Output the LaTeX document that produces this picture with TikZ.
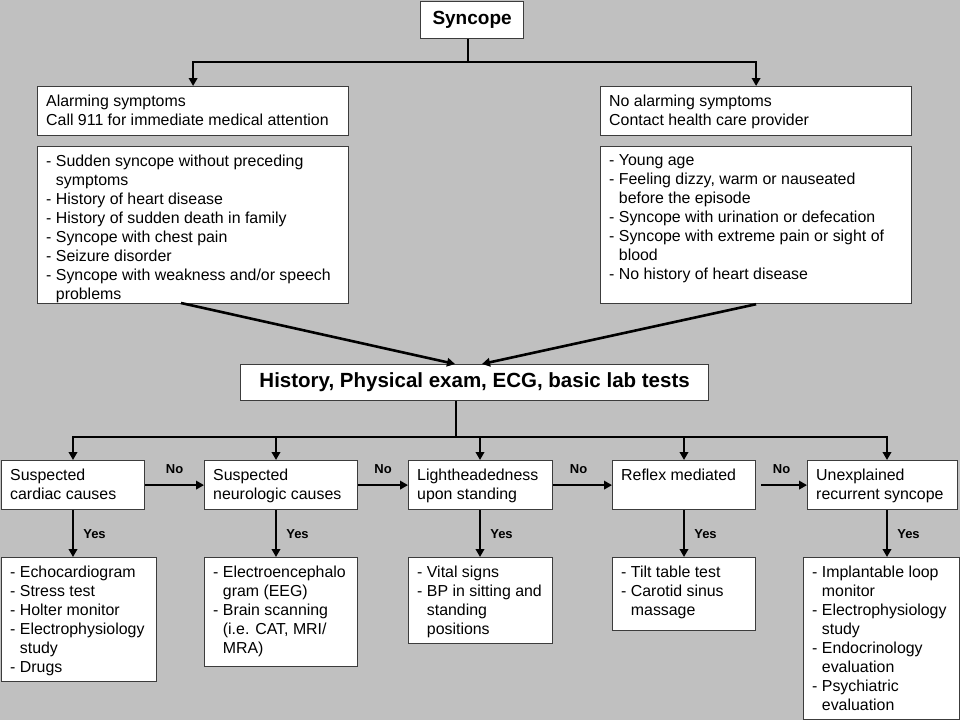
\documentclass[tikz,border=0pt]{standalone}
\usepackage{fontspec}
\setmainfont{Liberation Sans}
\usetikzlibrary{arrows.meta}
\newcommand\bodyfont{\fontsize{15.9}{19}\selectfont}
\newcommand\titlefont{\fontsize{19}{22}\selectfont\bfseries}
\newcommand\histfont{\fontsize{20.5}{24}\selectfont\bfseries}
\newcommand\labfont{\fontsize{13}{15}\selectfont\bfseries}
\newcommand\ind{\hphantom{-\ }}
\definecolor{bgc}{RGB}{192,192,192}
\definecolor{bdc}{RGB}{60,60,60}
\tikzset{
  box/.style={draw=bdc, line width=1.2pt, fill=white, rectangle, inner sep=0pt, anchor=north west},
  txt/.style={align=left, inner sep=0pt, anchor=north west, font=\bodyfont},
  conn/.style={line width=2.6pt, black},
  arr/.style={conn, -{Triangle[length=8pt,width=8.5pt]}},
  lbl/.style={font=\labfont, inner sep=0pt},
}
\newcommand\tbox[6]{%
  \node[box, minimum width={#4-#2}, minimum height={#5-#3}] (#1) at (#2,#3) {};
  \node[txt] (#1t) at (#2+9,#3+8.5) {#6};}
\begin{document}
\begin{tikzpicture}[x=1pt,y=-1pt]
\useasboundingbox (0,0) rectangle (960,720);
\fill[bgc] (0,0) rectangle (960,720);
% title boxes
\node[box, minimum width=103, minimum height=37, font=\titlefont] (syn) at (420,1) {Syncope};
\node[box, minimum width=468, minimum height=36, font=\histfont] (hist) at (240,364) {History, Physical exam, ECG, basic lab tests};
% upper boxes
\tbox{alarm}{37}{86}{348}{135}{Alarming symptoms\\Call 911 for immediate medical attention}
\tbox{alarmL}{37}{146}{348}{303}{- Sudden syncope without preceding\\\ind symptoms\\- History of heart disease\\- History of sudden death in family\\- Syncope with chest pain\\- Seizure disorder\\- Syncope with weakness and/or speech\\\ind problems}
\tbox{noalarm}{600}{86}{911}{135}{No alarming symptoms\\Contact health care provider}
\tbox{noalarmL}{600}{146}{911}{303}{- Young age\\- Feeling dizzy, warm or nauseated\\\ind before the episode\\- Syncope with urination or defecation\\- Syncope with extreme pain or sight of\\\ind blood\\- No history of heart disease}
% row of causes
\tbox{r1}{1}{460}{144}{509}{Suspected\\cardiac causes}
\tbox{r2}{204}{460}{357}{509}{Suspected\\neurologic causes}
\tbox{r3}{408}{460}{552}{509}{Lightheadedness\\upon standing}
\tbox{r4}{612}{460}{755}{509}{Reflex mediated}
\tbox{r5}{807}{460}{957}{509}{Unexplained\\recurrent syncope}
% bottom boxes
\tbox{b1}{1}{557}{156}{681}{- Echocardiogram\\- Stress test\\- Holter monitor\\- Electrophysiology\\\ind study\\- Drugs}
\tbox{b2}{204}{557}{357}{666}{- Electroencephalo\\\ind gram (EEG)\\- Brain scanning\\\ind (i.e. CAT, MRI/\\\ind MRA)}
\tbox{b3}{408}{557}{552}{643}{- Vital signs\\- BP in sitting and\\\ind standing\\\ind positions}
\tbox{b4}{612}{557}{755}{630}{- Tilt table test\\- Carotid sinus\\\ind massage}
\tbox{b5}{803}{557}{959}{719}{- Implantable loop\\\ind monitor\\- Electrophysiology\\\ind study\\- Endocrinology\\\ind evaluation\\- Psychiatric\\\ind evaluation}
% connectors: top split
\coordinate (j1) at (468,62);
\draw[conn] (syn.south -| j1) -- (j1);
\draw[arr] (j1) -| (alarm.north);
\draw[arr] (j1) -| (noalarm.north);
% into history
\coordinate (s1) at (181,303);
\coordinate (h1) at (455,364);
\coordinate (h2) at (482,364);
\draw[arr] (s1) -- (h1);
\draw[arr] (noalarmL.south) -- (h2);
% history split
\coordinate (j2) at (456,437);
\coordinate (c1) at (73,437);
\coordinate (c2) at (276,437);
\coordinate (c3) at (480,437);
\coordinate (c4) at (684,437);
\coordinate (c5) at (887,437);
\draw[conn] (hist.south -| j2) -- (j2);
\draw[conn, line cap=rect] (c1) -- (c5);
\draw[arr] (c1) -- (c1 |- r1.north);
\draw[arr] (c2) -- (c2 |- r2.north);
\draw[arr] (c3) -- (c3 |- r3.north);
\draw[arr] (c4) -- (c4 |- r4.north);
\draw[arr] (c5) -- (c5 |- r5.north);
% No arrows
\draw[arr] (r1.east) -- node[lbl, above=10pt] {No} (r2.west);
\draw[arr] (r2.east) -- node[lbl, above=10pt] {No} (r3.west);
\draw[arr] (r3.east) -- node[lbl, above=10pt, xshift=-4pt] {No} (r4.west);
\draw[arr, shorten <=5pt] (r4.east) -- node[lbl, above=10pt] {No} (r5.west);
% Yes arrows
\draw[arr] (c1 |- r1.south) -- node[lbl, right=9pt] {Yes} (c1 |- b1.north);
\draw[arr] (c2 |- r2.south) -- node[lbl, right=9pt] {Yes} (c2 |- b2.north);
\draw[arr] (c3 |- r3.south) -- node[lbl, right=9pt] {Yes} (c3 |- b3.north);
\draw[arr] (c4 |- r4.south) -- node[lbl, right=9pt] {Yes} (c4 |- b4.north);
\draw[arr] (c5 |- r5.south) -- node[lbl, right=9pt] {Yes} (c5 |- b5.north);
\end{tikzpicture}
\end{document}
